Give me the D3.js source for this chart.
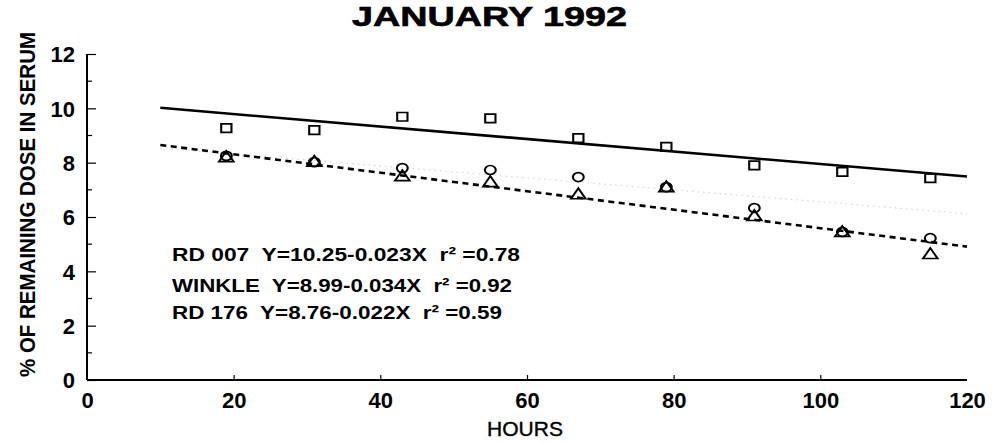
<!DOCTYPE html>
<html>
<head>
<meta charset="utf-8">
<script src="https://cdn.jsdelivr.net/npm/d3@7"></script>
<style>
  html, body { margin: 0; padding: 0; background: #fff; }
  svg { display: block; }
  text { font-family: "Liberation Sans", Arial, Helvetica, sans-serif; fill: #000; }
</style>
</head>
<body>
<svg id="chart" width="996" height="443"></svg>
<script>
// Sampling times (hours) and % of remaining dose in serum per animal
const hours  = [19, 31, 43, 55, 67, 79, 91, 103, 115];
const rd007  = [9.27, 9.20, 9.69, 9.63, 8.90, 8.58, 7.90, 7.66, 7.43];
const winkle = [8.17, 8.00, 7.47, 7.25, 6.80, 7.06, 6.00, 5.41, 4.60];
const rd176  = [8.25, 8.02, 7.80, 7.73, 7.47, 7.10, 6.33, 5.45, 5.22];

// Regression fits: Y = a + bX
const fitNames      = ["RD 007", "WINKLE", "RD 176"];
const fitIntercepts = ["10.25", "8.99", "8.76"];
const fitSlopes     = ["0.023", "0.034", "0.022"];
const fitR2         = ["0.78", "0.92", "0.59"];
const fitStart = 10, fitEnd = 120;

// Axis ticks
const xTicks = [0, 20, 40, 60, 80, 100, 120];
const yTicks = [0, 2, 4, 6, 8, 10, 12];
const yMinor = [1, 3, 5, 7, 9, 11];

const svg = d3.select("#chart");
const x = d3.scaleLinear().domain([0, 120]).range([87, 967]);
const y = d3.scaleLinear().domain([0, 12]).range([380, 54]);

// Title
svg.append("text")
  .attr("x", 352).attr("y", 26)
  .attr("font-size", 27).attr("font-weight", 900)
  .attr("stroke", "#000").attr("stroke-width", 0.6)
  .attr("textLength", 275).attr("lengthAdjust", "spacingAndGlyphs")
  .text("JANUARY 1992");

// Y axis (ticks drawn inward)
const yAxis = d3.axisLeft(y).tickValues(yTicks).tickSize(-9).tickPadding(12).tickFormat(d3.format("d"));
const gy = svg.append("g").attr("transform", `translate(${x(0)},0)`).call(yAxis);
gy.select(".domain").attr("stroke", "#000").attr("stroke-width", 2).attr("d", `M0,${y(12)}V${y(0)}`);
gy.selectAll(".tick line").attr("stroke", "#000").attr("stroke-width", 1.2);
gy.selectAll(".tick text").attr("font-size", 22).attr("font-weight", "bold")
  .attr("font-family", "'Liberation Sans', Arial, sans-serif").attr("dy", "0.36em");
gy.selectAll(".minor").data(yMinor).enter().append("line")
  .attr("x1", 0).attr("x2", 5)
  .attr("y1", d => y(d)).attr("y2", d => y(d))
  .attr("stroke", "#000").attr("stroke-width", 1.2);

// X axis (ticks drawn inward)
const xAxis = d3.axisBottom(x).tickValues(xTicks).tickSize(-5).tickPadding(12).tickFormat(d3.format("d"));
const gx = svg.append("g").attr("transform", `translate(0,${y(0)})`).call(xAxis);
gx.select(".domain").attr("stroke", "#000").attr("stroke-width", 2).attr("d", `M${x(0)},0H${x(120)}`);
gx.selectAll(".tick line").attr("stroke", "#000").attr("stroke-width", 1.2)
  .attr("display", d => (d === 0 || d === 120) ? "none" : null);
gx.selectAll(".tick text").attr("font-size", 22).attr("font-weight", "bold")
  .attr("font-family", "'Liberation Sans', Arial, sans-serif").attr("dy", "0.71em").attr("y", 12);

// Axis titles
svg.append("text")
  .attr("x", 525).attr("y", 436)
  .attr("text-anchor", "middle")
  .attr("font-size", 21)
  .attr("stroke", "#000").attr("stroke-width", 0.4)
  .text("HOURS");

svg.append("text")
  .attr("transform", "translate(35,204.5) rotate(-90)")
  .attr("x", -172.5).attr("y", 0)
  .attr("font-size", 22).attr("font-weight", "bold")
  .attr("textLength", 345).attr("lengthAdjust", "spacingAndGlyphs")
  .text("% OF REMAINING DOSE IN SERUM");

// Regression lines
function fitLine(i) {
  const a = +fitIntercepts[i], b = -fitSlopes[i];
  return [[fitStart, a + b * fitStart], [fitEnd, a + b * fitEnd]];
}
const line = d3.line().x(d => x(d[0])).y(d => y(d[1]));

svg.append("path").attr("d", line(fitLine(2)))
  .attr("fill", "none").attr("stroke", "#dadada").attr("stroke-width", 1.3)
  .attr("stroke-dasharray", "1.5,4");
svg.append("path").attr("d", line(fitLine(0)))
  .attr("fill", "none").attr("stroke", "#000").attr("stroke-width", 2.6);
svg.append("path").attr("d", line(fitLine(1)))
  .attr("fill", "none").attr("stroke", "#000").attr("stroke-width", 2.6)
  .attr("stroke-dasharray", "6,4.5");

// Data markers
function drawPoints(vals, type, size) {
  const sym = d3.symbol().type(type).size(size);
  svg.append("g").selectAll("path").data(vals).enter().append("path")
    .attr("d", sym)
    .attr("transform", (d, i) => `translate(${x(hours[i])},${y(d)}) scale(1.15,0.95)`)
    .attr("fill", "none").attr("stroke", "#000").attr("stroke-width", 1.8);
}
drawPoints(rd007, d3.symbolSquare, 80);
drawPoints(rd176, d3.symbolCircle, 70);
drawPoints(winkle, d3.symbolTriangle, 70);

// Fit equations
const eqBaselines = [261, 292, 319];
const eqLengths = [348, 340, 330];
fitNames.forEach((n, i) => {
  svg.append("text")
    .attr("x", 172).attr("y", eqBaselines[i])
    .attr("font-size", 19).attr("font-weight", "bold")
    .attr("textLength", eqLengths[i]).attr("lengthAdjust", "spacingAndGlyphs")
    .attr("xml:space", "preserve")
    .text(`${n}  Y=${fitIntercepts[i]}-${fitSlopes[i]}X  r² =${fitR2[i]}`);
});
</script>
</body>
</html>
